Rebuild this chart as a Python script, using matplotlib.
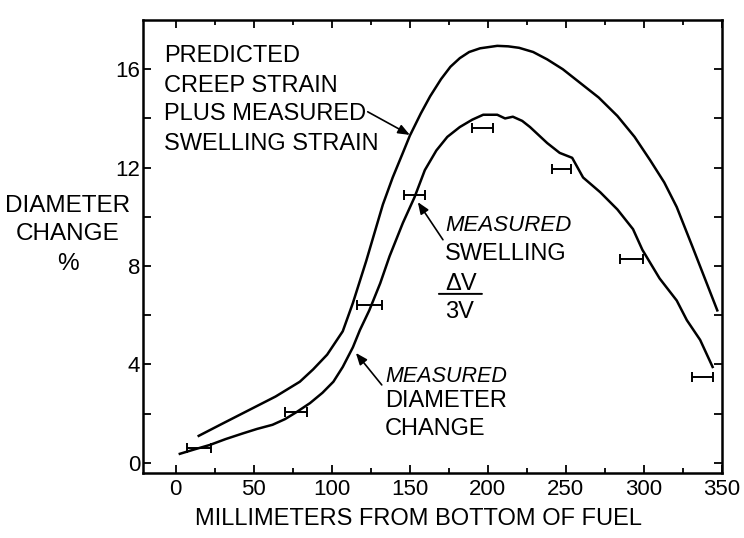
import numpy as np
import matplotlib.pyplot as plt

plt.rcParams['font.family'] = ['Liberation Sans', 'DejaVu Sans']

# predicted creep strain plus measured swelling strain (upper curve)
pred_mm = [14.7, 30, 47, 64, 79.5, 88, 97, 107, 113.5, 122, 132.7, 139,
           145.5, 150, 157, 163, 170, 176, 182, 188, 195, 206, 213, 220,
           229, 238, 248, 259, 271, 283, 294, 304, 313, 321, 331, 339, 347]
pred_pct = [1.1, 1.6, 2.15, 2.7, 3.3, 3.8, 4.4, 5.35, 6.5, 8.2, 10.5, 11.6,
            12.6, 13.3, 14.2, 14.9, 15.6, 16.1, 16.45, 16.7, 16.85, 16.95,
            16.93, 16.87, 16.7, 16.4, 16.0, 15.45, 14.85, 14.1, 13.25, 12.3,
            11.4, 10.4, 8.8, 7.5, 6.2]

# measured diameter change (lower curve)
diam_mm = [2.6, 12, 21.8, 32, 43, 52, 62, 70, 77.5, 86, 94, 101, 107, 113.5,
           118, 124, 131, 137, 145.5, 153, 159.6, 167, 174, 182, 190, 197,
           206, 211, 216, 222, 227, 238, 246, 254, 261, 272, 283, 293, 299,
           310, 321, 327.5, 336, 344]
diam_pct = [0.37, 0.55, 0.73, 0.97, 1.2, 1.38, 1.55, 1.78, 2.07, 2.43, 2.85,
            3.3, 3.9, 4.7, 5.4, 6.2, 7.3, 8.4, 9.75, 10.8, 11.9, 12.7, 13.25,
            13.65, 13.95, 14.15, 14.15, 14.0, 14.07, 13.9, 13.65, 13.0, 12.6,
            12.4, 11.6, 11.0, 10.3, 9.5, 8.66, 7.5, 6.6, 5.8, 5.0, 3.9]

# measured swelling dV/3V, with the axial span of each sample
swell_mm = [15, 77, 124, 153, 196.5, 247, 292, 337.5]
swell_pct = [0.6, 2.05, 6.4, 10.9, 13.6, 11.95, 8.3, 3.5]
swell_span = [7.5, 7, 8, 7, 6.5, 6, 7.5, 6.5]

x_ticks = np.arange(0, 351, 50)
y_ticks = np.arange(0, 17, 4)
y_tick_labels = [str(v) for v in y_ticks]

fig = plt.figure(figsize=(7.44, 5.38), dpi=100)
ax = fig.add_axes([0.1922, 0.1208, 0.7782, 0.842])

ax.plot(pred_mm, pred_pct, color='black', lw=1.8, solid_joinstyle='round')
ax.plot(diam_mm, diam_pct, color='black', lw=1.8, solid_joinstyle='round')
ax.errorbar(swell_mm, swell_pct, xerr=swell_span, fmt='none', ecolor='black',
            elinewidth=1.4, capsize=3.6, capthick=1.4)

ax.set_xlim(-21, 350)
ax.set_ylim(-0.41, 18.0)
ax.set_xticks(x_ticks)
ax.set_xticks(np.arange(0, 351, 25), minor=True)
ax.set_yticks(y_ticks)
ax.set_yticklabels(y_tick_labels)
ax.set_yticks(np.arange(0, 17, 2), minor=True)
ax.tick_params(axis='both', which='both', direction='in', top=True, right=True,
               labelsize=16, width=1.3)
ax.tick_params(axis='x', which='major', length=5.5, pad=4)
ax.tick_params(axis='x', which='minor', length=3.5)
ax.tick_params(axis='y', which='both', length=6, pad=2)
for sp in ax.spines.values():
    sp.set_linewidth(1.8)

ax.set_xlabel('MILLIMETERS FROM BOTTOM OF FUEL', fontsize=17)
ax.xaxis.set_label_coords(0.4767, -0.077)

# y label, three centred lines left of the axis
for txt, yb in [('DIAMETER', 10.2), ('CHANGE', 9.07), ('%', 7.85)]:
    ax.text(-69.2, yb, txt, fontsize=17.5, ha='center', va='baseline',
            clip_on=False)

# upper curve label
for txt, yb in [('PREDICTED', 16.3), ('CREEP STRAIN', 15.08),
                ('PLUS MEASURED', 13.94), ('SWELLING STRAIN', 12.72)]:
    ax.text(-7.7, yb, txt, fontsize=17, ha='left', va='baseline')
ax.annotate('', xy=(150, 13.33), xytext=(123, 14.27),
            arrowprops=dict(arrowstyle='-|>,head_length=0.5,head_width=0.2',
                            color='black', lw=1.2, mutation_scale=14,
                            shrinkA=0, shrinkB=0))

# measured swelling label
ax.text(172.4, 9.43, 'MEASURED', fontsize=16, style='italic', ha='left',
        va='baseline')
ax.text(172.4, 8.25, 'SWELLING', fontsize=17, ha='left', va='baseline')
ax.text(172.4, 7.03, '\u0394V', fontsize=17, ha='left', va='baseline')
ax.text(172.4, 5.89, '3V', fontsize=17, ha='left', va='baseline')
ax.annotate('', xy=(196.2, 6.87), xytext=(168.6, 6.87),
            arrowprops=dict(arrowstyle='-', color='black', lw=1.4,
                            shrinkA=0, shrinkB=0))
ax.annotate('', xy=(155.1, 10.6), xytext=(171.2, 9.07),
            arrowprops=dict(arrowstyle='-|>,head_length=0.5,head_width=0.2',
                            color='black', lw=1.2, mutation_scale=14,
                            shrinkA=0, shrinkB=0))

# measured diameter change label
ax.text(134, 3.29, 'MEASURED', fontsize=15.5, style='italic', ha='left',
        va='baseline')
ax.text(134, 2.28, 'DIAMETER', fontsize=17, ha='left', va='baseline')
ax.text(134, 1.14, 'CHANGE', fontsize=17, ha='left', va='baseline')
ax.annotate('', xy=(115.4, 4.47), xytext=(132, 3.17),
            arrowprops=dict(arrowstyle='-|>,head_length=0.5,head_width=0.2',
                            color='black', lw=1.2, mutation_scale=14,
                            shrinkA=0, shrinkB=0))

fig.savefig('out.png', dpi=100)
